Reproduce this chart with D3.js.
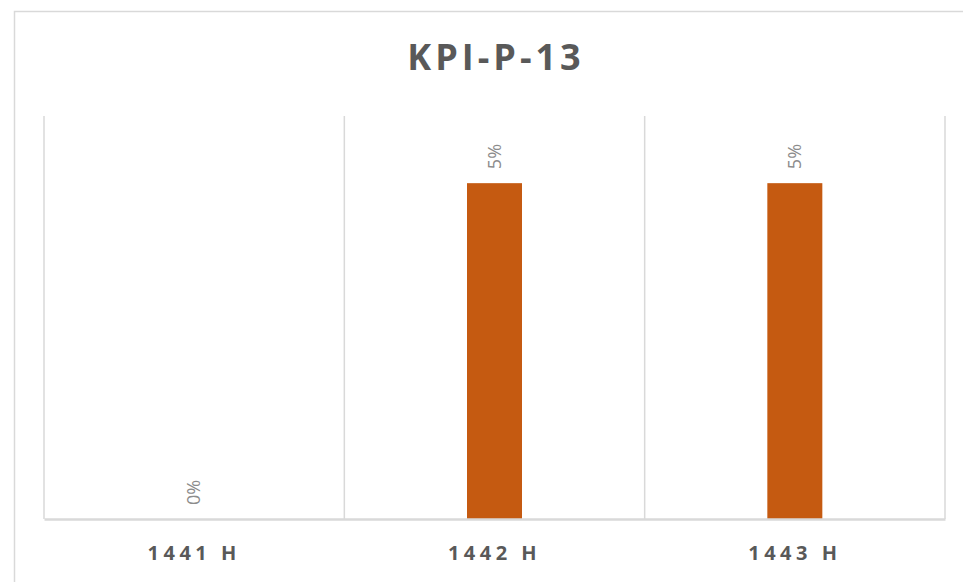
<!DOCTYPE html>
<html>
<head>
<meta charset="utf-8">
<script src="https://cdn.jsdelivr.net/npm/d3@7"></script>
<style>
  html, body { margin: 0; padding: 0; background: #fff; }
  svg { display: block; }
</style>
</head>
<body>
<svg id="chart" width="963" height="582"></svg>
<script>
// Chart data
const title = "KPI-P-13";
const categories = ["1441 H", "1442 H", "1443 H"];
const values = [0, 0.05, 0.05];
const yMax = 0.06;

const svg = d3.select("#chart");
const plot = { left: 44, right: 945, top: 116, bottom: 519 };
const grid = "#d9d9d9";
const textGrey = "#595959";

// Chart frame (extends beyond the visible area at right and bottom)
svg.append("rect")
  .attr("x", 14.5).attr("y", 11.5)
  .attr("width", 1000).attr("height", 700)
  .attr("fill", "#fff")
  .attr("stroke", grid).attr("stroke-width", 1.5);

const x = d3.scaleBand().domain(categories).range([plot.left, plot.right]).paddingInner(0).paddingOuter(0);
const y = d3.scaleLinear().domain([0, yMax]).range([plot.bottom, plot.top]);

// Vertical gridlines at category boundaries
const bounds = categories.map(c => x(c)).concat([x(categories[categories.length - 1]) + x.bandwidth()]);
svg.append("g").selectAll("line").data(bounds).join("line")
  .attr("x1", d => d).attr("x2", d => d)
  .attr("y1", plot.top).attr("y2", plot.bottom)
  .attr("stroke", grid).attr("stroke-width", 1.5);

// Bars
const barW = 55;
svg.append("g").selectAll("rect").data(values).join("rect")
  .attr("x", (d, i) => x(categories[i]) + x.bandwidth() / 2 - barW / 2)
  .attr("y", d => y(d))
  .attr("width", barW)
  .attr("height", d => y(0) - y(d))
  .attr("fill", "#c55a11");

// Category axis
const xAxis = svg.append("g")
  .attr("transform", `translate(0,${plot.bottom})`)
  .call(d3.axisBottom(x).tickSize(0).tickPadding(27));
xAxis.select(".domain").attr("stroke", grid).attr("stroke-width", 2.5);
xAxis.selectAll("text")
  .attr("fill", textGrey)
  .attr("dx", "0px")
  .style("font-family", "'Open Sans', sans-serif")
  .style("font-size", "20px")
  .style("font-weight", "bold")
  .style("letter-spacing", "4.5px");

// Value labels, rotated
const fmt = d3.format(".0%");
svg.append("g").selectAll("text").data(values).join("text")
  .attr("transform", (d, i) => `translate(${x(categories[i]) + x.bandwidth() / 2 + 6},${y(d) - 14}) rotate(-90)`)
  .attr("text-anchor", "start")
  .attr("fill", "#8c8c8c")
  .style("font-family", "'Open Sans', sans-serif")
  .style("font-size", "18px")
  .text(d => fmt(d));

// Title
svg.append("text")
  .attr("x", 496).attr("y", 70)
  .attr("text-anchor", "middle")
  .attr("fill", textGrey)
  .style("font-family", "'Open Sans', sans-serif")
  .style("font-size", "36px")
  .style("font-weight", "bold")
  .style("letter-spacing", "4px")
  .text(title);
</script>
</body>
</html>
